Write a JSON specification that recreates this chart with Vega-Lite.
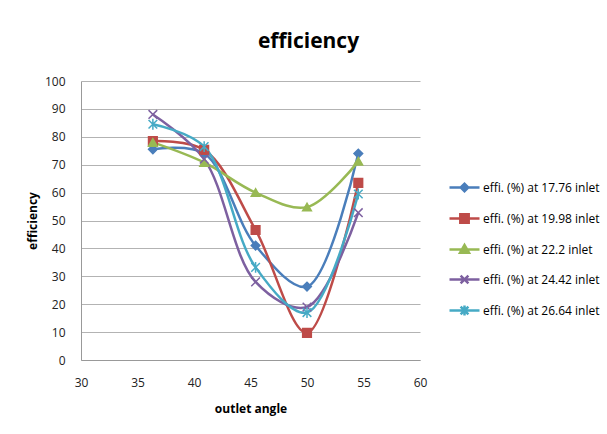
{
  "$schema": "https://vega.github.io/schema/vega-lite/v6.json",
  "width": 339,
  "height": 279,
  "autosize": {"type": "none"},
  "padding": {"left": 81, "top": 81, "right": 187, "bottom": 74},
  "background": "white",
  "config": {
    "font": "Open Sans",
    "view": {"stroke": null},
    "axis": {"labelFont": "Open Sans", "titleFont": "Open Sans", "labelColor": "#222", "titleColor": "#000"}
  },
  "title": {
    "text": "efficiency",
    "fontSize": 21,
    "fontWeight": "bold",
    "font": "Open Sans",
    "anchor": "middle",
    "dx": 58,
    "offset": 23,
    "color": "#000"
  },
  "data": {
    "values": [
      {"series": "effi. (%) at 17.76 inlet", "angle": 36.36, "eff": 75.5},
      {"series": "effi. (%) at 17.76 inlet", "angle": 40.9, "eff": 74},
      {"series": "effi. (%) at 17.76 inlet", "angle": 45.45, "eff": 41},
      {"series": "effi. (%) at 17.76 inlet", "angle": 50, "eff": 26.3},
      {"series": "effi. (%) at 17.76 inlet", "angle": 54.54, "eff": 74},
      {"series": "effi. (%) at 19.98 inlet", "angle": 36.36, "eff": 78.5},
      {"series": "effi. (%) at 19.98 inlet", "angle": 40.9, "eff": 75.3},
      {"series": "effi. (%) at 19.98 inlet", "angle": 45.45, "eff": 46.6},
      {"series": "effi. (%) at 19.98 inlet", "angle": 50, "eff": 9.7},
      {"series": "effi. (%) at 19.98 inlet", "angle": 54.54, "eff": 63.5},
      {"series": "effi. (%) at 22.2 inlet", "angle": 36.36, "eff": 78},
      {"series": "effi. (%) at 22.2 inlet", "angle": 40.9, "eff": 70.8},
      {"series": "effi. (%) at 22.2 inlet", "angle": 45.45, "eff": 60},
      {"series": "effi. (%) at 22.2 inlet", "angle": 50, "eff": 54.8},
      {"series": "effi. (%) at 22.2 inlet", "angle": 54.54, "eff": 71.2},
      {"series": "effi. (%) at 24.42 inlet", "angle": 36.36, "eff": 88},
      {"series": "effi. (%) at 24.42 inlet", "angle": 40.9, "eff": 72},
      {"series": "effi. (%) at 24.42 inlet", "angle": 45.45, "eff": 28},
      {"series": "effi. (%) at 24.42 inlet", "angle": 50, "eff": 19},
      {"series": "effi. (%) at 24.42 inlet", "angle": 54.54, "eff": 52.8},
      {"series": "effi. (%) at 26.64 inlet", "angle": 36.36, "eff": 84.5},
      {"series": "effi. (%) at 26.64 inlet", "angle": 40.9, "eff": 76.5},
      {"series": "effi. (%) at 26.64 inlet", "angle": 45.45, "eff": 33.2},
      {"series": "effi. (%) at 26.64 inlet", "angle": 50, "eff": 17},
      {"series": "effi. (%) at 26.64 inlet", "angle": 54.54, "eff": 59.5}
    ]
  },
  "encoding": {
    "x": {
      "field": "angle", "type": "quantitative",
      "scale": {"domain": [30, 60], "nice": false},
      "axis": {
        "title": "outlet angle", "values": [30, 35, 40, 45, 50, 55, 60],
        "grid": false, "ticks": false, "labelFontSize": 12, "labelPadding": 17,
        "titleFontSize": 12, "titleFontWeight": "bold", "titlePadding": 15,
        "domainColor": "#999", "labelFlush": false
      }
    },
    "y": {
      "field": "eff", "type": "quantitative",
      "scale": {"domain": [0, 100], "nice": false},
      "axis": {
        "title": "efficiency", "values": [0, 10, 20, 30, 40, 50, 60, 70, 80, 90, 100],
        "grid": true, "gridColor": "#b3b3b3", "ticks": false, "labelFontSize": 12,
        "labelPadding": 16, "titleFontSize": 12, "titleFontWeight": "bold", "titlePadding": 5,
        "domainColor": "#999"
      }
    }
  },
  "layer": [
    {
      "mark": {"type": "line", "interpolate": "catmull-rom", "strokeWidth": 2.5},
      "encoding": {
        "color": {
          "field": "series", "type": "nominal",
          "scale": {
            "domain": ["effi. (%) at 17.76 inlet", "effi. (%) at 19.98 inlet", "effi. (%) at 22.2 inlet", "effi. (%) at 24.42 inlet", "effi. (%) at 26.64 inlet"],
            "range": ["#4a7ebb", "#be4b48", "#98b954", "#7d60a0", "#46aac5"]
          },
          "legend": {
            "title": null,
            "orient": "none",
            "legendX": 367,
            "legendY": 90,
            "labelFont": "Open Sans",
            "labelFontSize": 12,
            "labelColor": "#000",
            "labelOffset": 2,
            "rowPadding": 5,
            "symbolSize": 900,
            "symbolStrokeWidth": 2.5,
            "encode": {
              "symbols": {
                "update": {
                  "shape": {"signal": "datum.value == 'effi. (%) at 17.76 inlet' ? 'M-1,0L1,0M-0.25,0L0,-0.25L0.25,0L0,0.25Z' : datum.value == 'effi. (%) at 19.98 inlet' ? 'M-1,0L1,0M-0.28,-0.28L0.28,-0.28L0.28,0.28L-0.28,0.28Z' : datum.value == 'effi. (%) at 22.2 inlet' ? 'M-1,0L1,0M-0.3,0.22L0,-0.3L0.3,0.22Z' : datum.value == 'effi. (%) at 24.42 inlet' ? 'M-1,0L1,0M-0.26,-0.26L0.26,0.26M-0.26,0.26L0.26,-0.26' : 'M-1,0L1,0M-0.26,-0.26L0.26,0.26M-0.26,0.26L0.26,-0.26M0,-0.33L0,0.33'"},
                  "fill": {"signal": "datum.value == 'effi. (%) at 17.76 inlet' ? '#4a7ebb' : datum.value == 'effi. (%) at 19.98 inlet' ? '#be4b48' : datum.value == 'effi. (%) at 22.2 inlet' ? '#98b954' : 'transparent'"},
                  "strokeWidth": {"value": 2.5},
                  "opacity": {"value": 1}
                }
              }
            }
          }
        }
      }
    },
    {
      "mark": {"type": "point", "filled": true, "opacity": 1, "strokeWidth": 1.5},
      "encoding": {
        "color": {
          "field": "series", "type": "nominal",
          "scale": {
            "domain": ["effi. (%) at 17.76 inlet", "effi. (%) at 19.98 inlet", "effi. (%) at 22.2 inlet", "effi. (%) at 24.42 inlet", "effi. (%) at 26.64 inlet"],
            "range": ["#4a7ebb", "#be4b48", "#98b954", "#7d60a0", "#46aac5"]
          },
          "legend": null
        },
        "shape": {
          "field": "series", "type": "nominal",
          "scale": {
            "domain": ["effi. (%) at 17.76 inlet", "effi. (%) at 19.98 inlet", "effi. (%) at 22.2 inlet", "effi. (%) at 24.42 inlet", "effi. (%) at 26.64 inlet"],
            "range": ["diamond", "square", "triangle-up", "M-1,-1L1,1M-1,1L1,-1", "M-1,-1L1,1M-1,1L1,-1M0,-1.25L0,1.25"]
          },
          "legend": null
        },
        "stroke": {
          "field": "series", "type": "nominal",
          "scale": {
            "domain": ["effi. (%) at 17.76 inlet", "effi. (%) at 19.98 inlet", "effi. (%) at 22.2 inlet", "effi. (%) at 24.42 inlet", "effi. (%) at 26.64 inlet"],
            "range": ["#4a7ebb", "#be4b48", "#98b954", "#7d60a0", "#46aac5"]
          },
          "legend": null
        },
        "size": {"value": 75}
      }
    }
  ],
  "resolve": {"scale": {"color": "independent"}, "legend": {"color": "independent"}}
}
